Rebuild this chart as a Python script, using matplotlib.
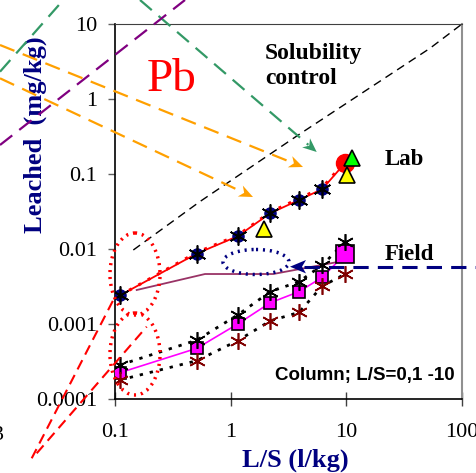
import matplotlib
matplotlib.use("Agg")
import matplotlib.pyplot as plt
from matplotlib.patches import Ellipse, Polygon
from matplotlib.ticker import FixedLocator, FixedFormatter, NullLocator

plt.rcParams['font.family'] = ['Liberation Serif', 'DejaVu Serif']

# ---------------- data ----------------
lab_x = [0.11, 0.51, 1.15, 2.2, 3.9, 6.2, 9.7]
lab_y = [0.0024, 0.0087, 0.0148, 0.030, 0.045, 0.063, 0.139]
lab_dot_y = [0.0024, 0.0090, 0.0152, 0.031, 0.047, 0.066, 0.145]

tri_yellow_x = [1.95, 10.06]
tri_yellow_y = [0.0185, 0.097]
tri_green_x = [11.1]
tri_green_y = [0.162]

field_x = [0.11, 0.51, 1.15, 2.2, 3.9, 6.2, 9.8]
field_y = [0.000224, 0.000474, 0.0010, 0.00192, 0.0027, 0.0042, 0.0086]
field_hi_y = [0.000284, 0.00061, 0.00132, 0.0027, 0.00367, 0.0061, 0.0125]
field_lo_y = [0.000179, 0.000324, 0.000599, 0.0011, 0.00143, 0.00321, 0.00464]

model_x = [0.154, 0.6, 2.33, 10.4]
model_y = [0.00284, 0.00464, 0.00464, 0.00713]

sol_x = [0.144, 0.54, 3.84, 52.8, 100]
sol_y = [0.0097, 0.0427, 0.331, 4.74, 10]

xticks = [0.1, 1, 10, 100]
xticklabels = ["0.1", "1", "10", "100"]
yticks = [0.0001, 0.001, 0.01, 0.1, 1, 10]
yticklabels = ["0.0001", "0.001", "0.01", "0.1", "1", "10"]

W, H = 476, 473
fig = plt.figure(figsize=(W / 100, H / 100), dpi=100)
ax = fig.add_axes([115 / W, 1 - 399 / H, 347 / W, 375 / H])
ax.set_xscale('log')
ax.set_yscale('log')
ax.set_xlim(0.1, 100)
ax.set_ylim(0.0001, 10)

navy = '#000080'
ast = (6, 2, 0)

# solubility line
ax.plot(sol_x, sol_y, color='black', lw=1.0, ls=(0, (6, 4)), zorder=2)
# model line
ax.plot(model_x, model_y, color='#993366', lw=1.3, zorder=2)

# lab
ax.plot(lab_x, lab_dot_y, color='red', lw=2.2, ls=(0, (1, 2.5)), zorder=3)
ax.plot(lab_x, lab_y, color='red', lw=1.3, zorder=3)
ax.plot(lab_x[:-1], lab_y[:-1], ls='none', marker='o', ms=8, mfc=navy, mec=navy, zorder=4)
ax.plot(lab_x[:-1], lab_y[:-1], ls='none', marker=ast, ms=13, mec='black', mew=1.2, zorder=5)
ax.plot(lab_x[-1:], lab_y[-1:], ls='none', marker='o', ms=13, mfc='red', mec='red', zorder=5)
ax.plot(tri_yellow_x, tri_yellow_y, ls='none', marker='^', ms=11, mfc='yellow', mec='black', mew=1.2, zorder=6)
ax.plot(tri_green_x, tri_green_y, ls='none', marker='^', ms=11, mfc='#00ff00', mec='black', mew=1.2, zorder=6)

# field
ax.plot(field_x, field_hi_y, color='black', lw=2.0, ls=(0, (1.2, 2.5)), zorder=3)
ax.plot(field_x, field_lo_y, color='black', lw=2.0, ls=(0, (1.2, 2.5)), zorder=3)
ax.plot(field_x, field_y, color='#ff00ff', lw=1.2, zorder=3)
ax.plot(field_x[:-1], field_y[:-1], ls='none', marker='s', ms=8, mfc='#ff00ff', mec='black', mew=1.2, zorder=5)
ax.plot(field_x[-1:], field_y[-1:], ls='none', marker='s', ms=13, mfc='#ff00ff', mec='black', mew=1.2, zorder=5)
ax.plot(field_x, field_hi_y, ls='none', marker=ast, ms=12, mec='black', mew=1.2, zorder=6)
ax.plot(field_x, field_lo_y, ls='none', marker=ast, ms=12, mec='#800000', mew=1.2, zorder=6)

# axes styling
ax.xaxis.set_major_locator(FixedLocator(xticks))
ax.xaxis.set_major_formatter(FixedFormatter(xticklabels))
ax.yaxis.set_major_locator(FixedLocator(yticks))
ax.yaxis.set_major_formatter(FixedFormatter(yticklabels))
ax.xaxis.set_minor_locator(NullLocator())
ax.yaxis.set_minor_locator(NullLocator())
ax.tick_params(axis='x', direction='inout', length=10, width=1, color='#404040',
               labelsize=16, pad=12, top=False)
ax.tick_params(axis='y', direction='out', length=5, width=1, color='#606060',
               labelsize=16, pad=8, right=False)
for s in ['left', 'bottom']:
    ax.spines[s].set_color('black')
    ax.spines[s].set_linewidth(1.2)
ax.spines['top'].set_color('#404040')
ax.spines['right'].set_color('#909090')
ax.spines['right'].set_linewidth(1.5)

ax.set_xlabel('L/S (l/kg)', fontsize=19, fontweight='bold', color=navy, va='center')
ax.xaxis.set_label_coords((295 - 115) / 347, (399 - 460) / 375)
ax.set_ylabel('Leached  (mg/kg)', fontsize=19, fontweight='bold', color=navy, va='center')
ax.yaxis.set_label_coords((35 - 115) / 347, (399 - 135) / 375)

# texts
ax.text((172 - 115) / 347, (399 - 80) / 375, 'Pb', transform=ax.transAxes, color='red',
        fontsize=34, ha='center', va='center')
ax.text((265 - 115) / 347, (399 - 43) / 375, 'Solubility\ncontrol', transform=ax.transAxes,
        fontsize=17, fontweight='bold', ha='left', va='top', linespacing=1.25)
ax.text((385 - 115) / 347, (399 - 159) / 375, 'Lab', transform=ax.transAxes,
        fontsize=16.5, fontweight='bold', ha='left', va='center')
ax.text((385 - 115) / 347, (399 - 255) / 375, 'Field', transform=ax.transAxes,
        fontsize=16.5, fontweight='bold', ha='left', va='center')
ax.text((455 - 115) / 347, (399 - 375) / 375, 'Column; L/S=0,1 -10', transform=ax.transAxes,
        fontsize=13.5, fontweight='bold', ha='right', va='center', family='Liberation Sans')

# overlay in pixel coordinates for annotations
ov = fig.add_axes([0, 0, 1, 1], zorder=10)
ov.set_xlim(0, W)
ov.set_ylim(H, 0)
ov.axis('off')
ov.patch.set_alpha(0)


def dashed_arrow(x0, y0, x1, y1, color, lw=1.6, dash=(7, 4), head=True):
    dx, dy = x1 - x0, y1 - y0
    L = (dx ** 2 + dy ** 2) ** 0.5
    ux, uy = dx / L, dy / L
    hl, hw = 14, 6
    if head:
        bx, by = x1 - ux * hl, y1 - uy * hl
        ov.plot([x0, bx + ux * 3], [y0, by + uy * 3], color=color, lw=lw, ls=(0, dash),
                solid_capstyle='butt', dash_capstyle='butt')
        px, py = -uy, ux
        notch = (x1 - ux * hl * 0.7, y1 - uy * hl * 0.7)
        poly = Polygon([(x1, y1), (bx + px * hw, by + py * hw), notch,
                        (bx - px * hw, by - py * hw)], closed=True, color=color, lw=0)
        ov.add_patch(poly)
    else:
        ov.plot([x0, x1], [y0, y1], color=color, lw=lw, ls=(0, dash),
                solid_capstyle='butt', dash_capstyle='butt')


green = '#339966'
orange = '#FFA000'
purple = '#800080'
dashed_arrow(0, 71.7, 63.3, 0, green, head=False)
dashed_arrow(140, 0, 316.7, 152, green)
dashed_arrow(0, 145, 185, 0, purple, head=False)
dashed_arrow(0, 45, 303, 167, orange)
dashed_arrow(0, 78.3, 253, 197, orange)

# red dashed lines at bottom-left
ov.plot([31.7, 115], [458.3, 296.7], color='red', lw=1.5, ls=(0, (5, 3)))
ov.plot([36.7, 146.7], [453.3, 326.7], color='red', lw=1.5, ls=(0, (5, 3)))

# dotted ellipses
for cx, cy in [(135, 274), (135, 354)]:
    ov.add_patch(Ellipse((cx, cy), 50, 82, fill=False, ec='red', lw=2.5, ls=(0, (0.6, 1.4))))
ov.add_patch(Ellipse((256, 262), 66, 25, fill=False, ec=navy, lw=2.5, ls=(0, (0.6, 1.4))))

# navy field arrow
ov.plot([304, W], [266.7, 266.7], color=navy, lw=2.2, ls=(0, (5, 3)))
ov.add_patch(Polygon([(290, 266.7), (306, 260), (302, 266.7), (306, 273.4)], closed=True,
                     color=navy, lw=0))

# stray tick label at left edge
ov.text(4, 435, '3', fontsize=16, ha='right', va='center')

fig.savefig('out.png', dpi=100)
